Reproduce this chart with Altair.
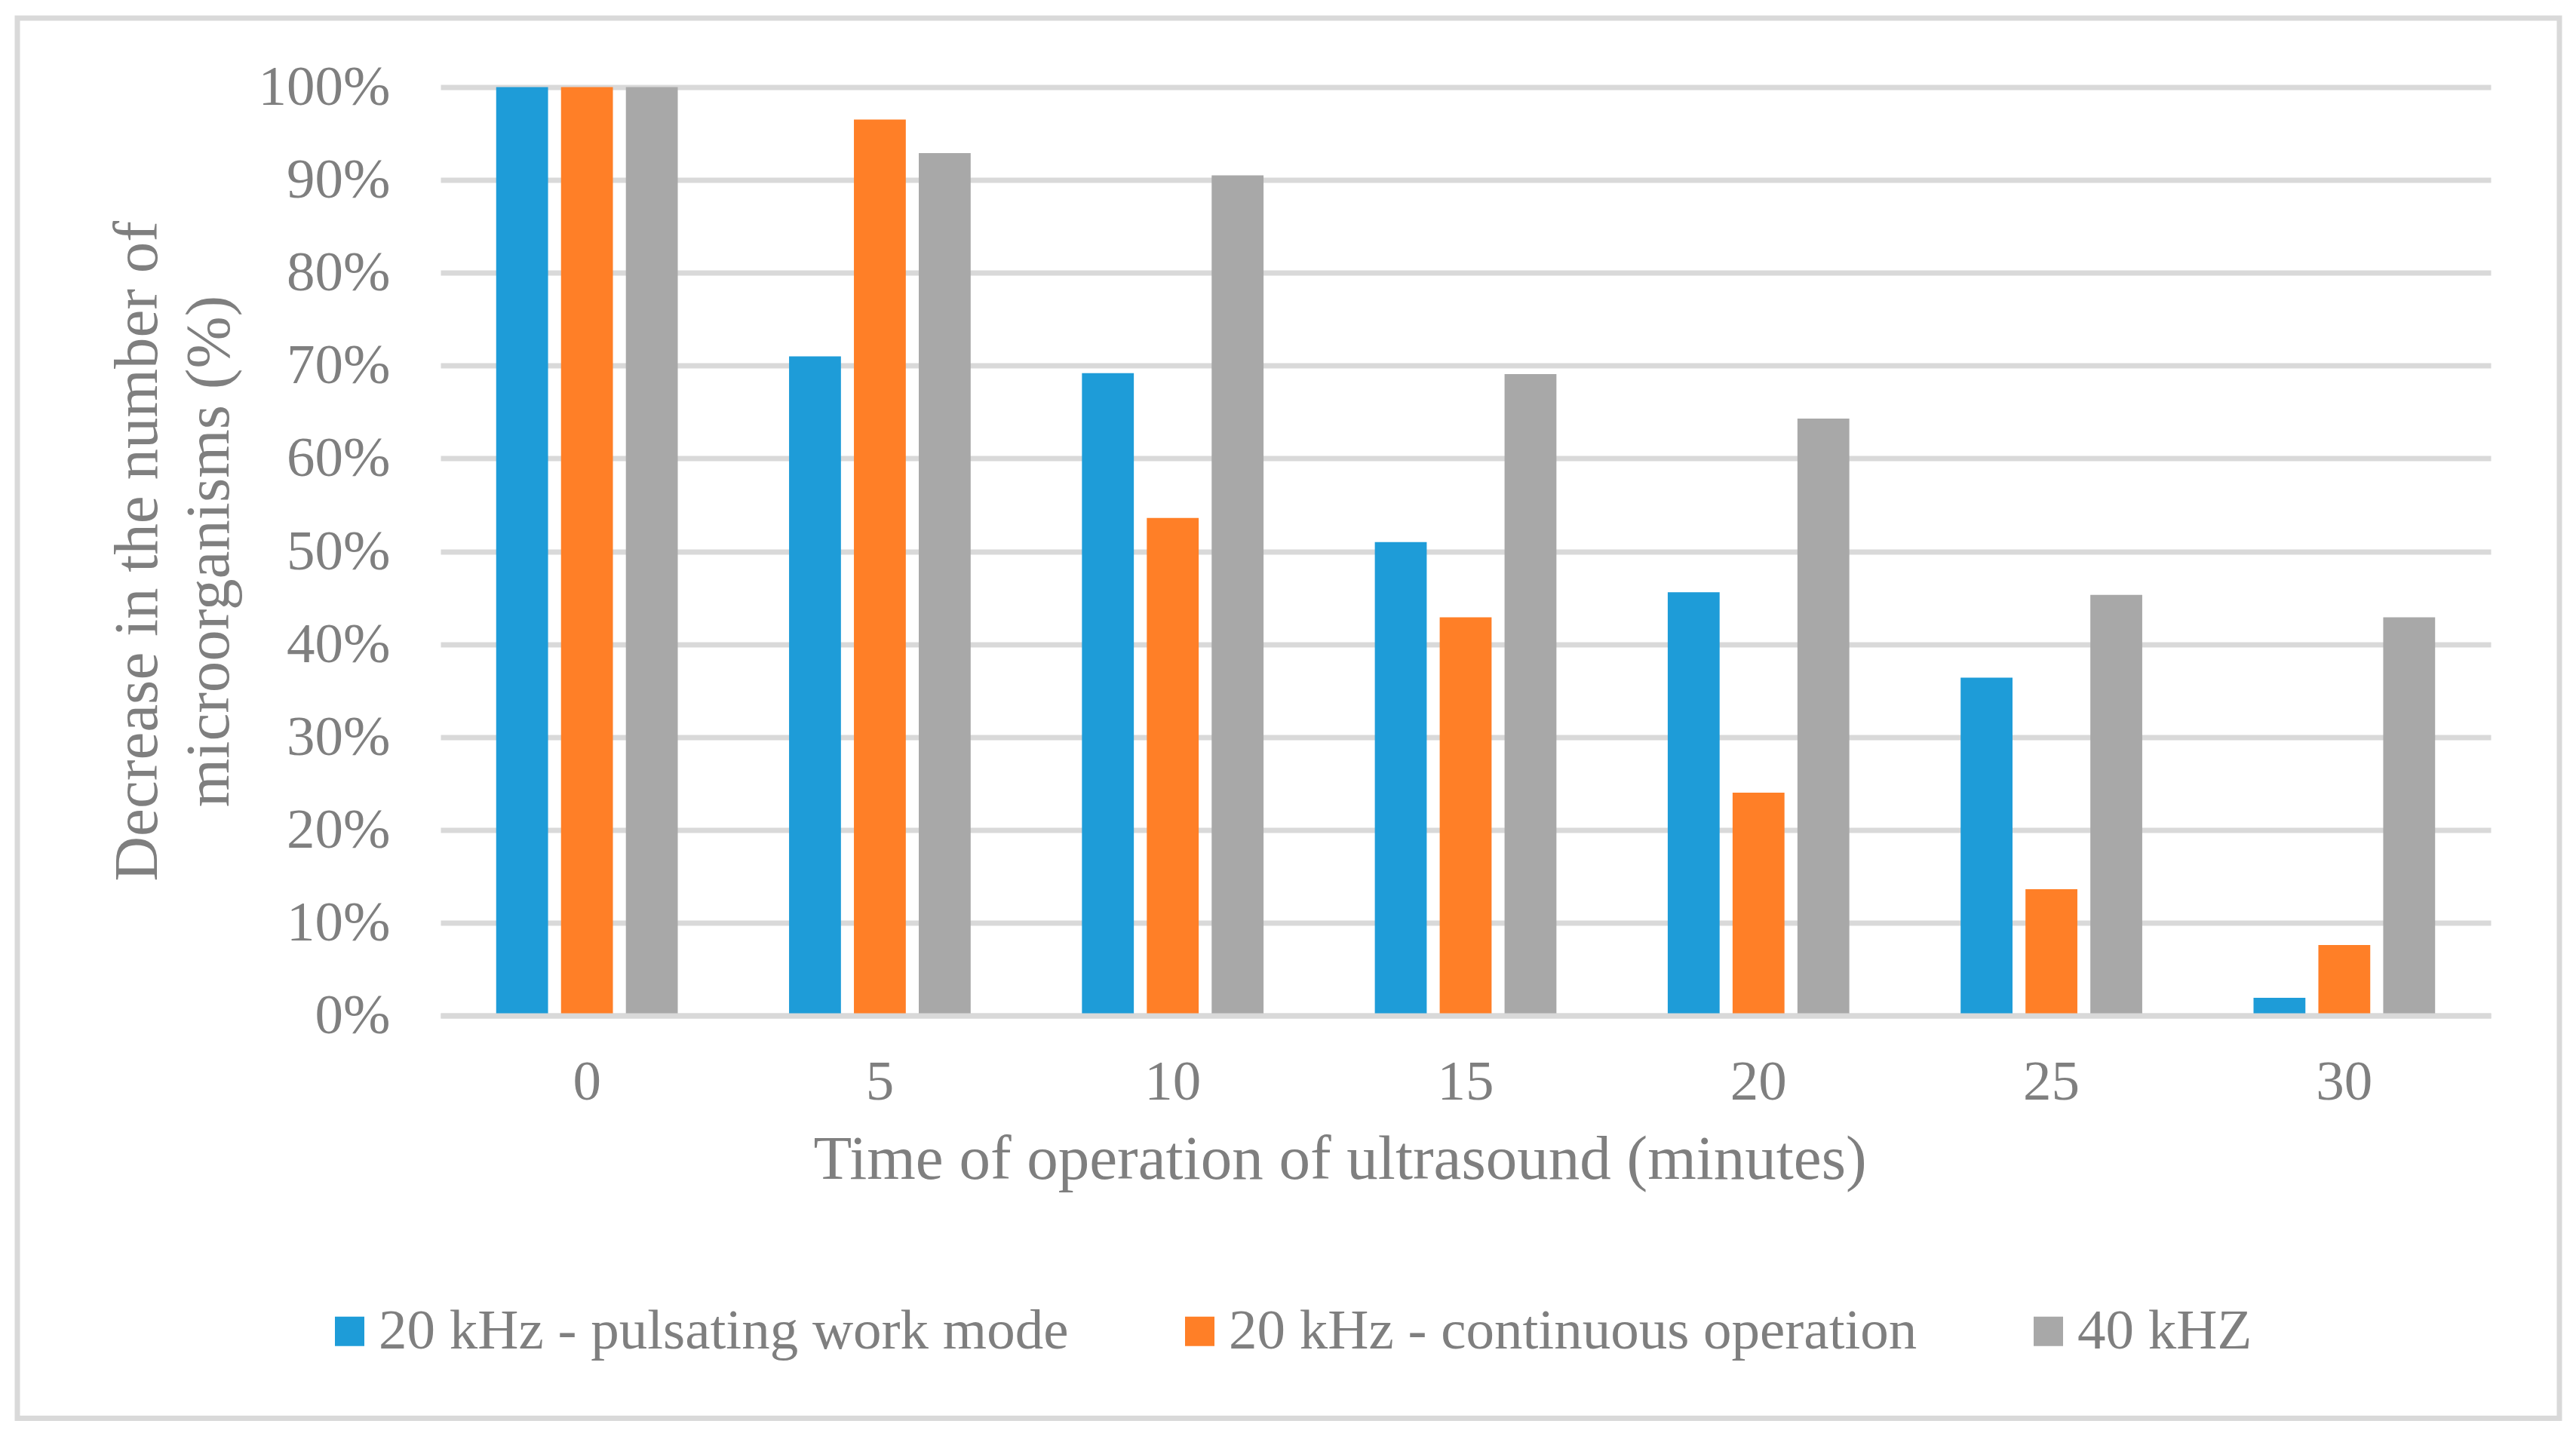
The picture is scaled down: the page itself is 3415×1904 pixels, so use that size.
import altair as alt
import pandas as pd

times = ["0", "5", "10", "15", "20", "25", "30"]
series = ["20 kHz - pulsating work mode", "20 kHz - continuous operation", "40 kHZ"]
pulsating = [100.0, 71.0, 69.2, 51.0, 45.6, 36.4, 1.9]
continuous = [100.0, 96.5, 53.6, 42.9, 24.0, 13.6, 7.6]
khz40 = [100.0, 92.9, 90.5, 69.1, 64.3, 45.3, 42.9]
colors = ["#1E9CD8", "#FF7F27", "#A8A8A8"]
y_ticks = [0, 0.1, 0.2, 0.3, 0.4, 0.5, 0.6, 0.7, 0.8, 0.9, 1.0]

rows = []
for s, vals in zip(series, [pulsating, continuous, khz40]):
    for t, v in zip(times, vals):
        rows.append({"time": t, "series": s, "value": v / 100.0})
df = pd.DataFrame(rows)

FONT = "Liberation Serif"
TXT = "#7F7F7F"
GRID = "#D9D9D9"

bars = alt.Chart(df).mark_bar().encode(
    x=alt.X(
        "time:N",
        sort=times,
        scale=alt.Scale(paddingInner=0.38, paddingOuter=0.19),
        axis=alt.Axis(
            title="Time of operation of ultrasound (minutes)",
            labelAngle=0,
            ticks=False,
            tickSize=0,
            labelPadding=52,
            labelFont=FONT,
            labelFontSize=75,
            labelColor=TXT,
            titleFont=FONT,
            titleFontSize=83,
            titleFontWeight="normal",
            titleColor=TXT,
            titleBaseline="alphabetic",
            titleX=1192,
            titleY=216,
            titleAlign="center",
            domain=True,
            domainColor=GRID,
            domainWidth=7,
            grid=False,
            zindex=1,
        ),
    ),
    xOffset=alt.XOffset("series:N", sort=series, scale=alt.Scale(paddingInner=0.2)),
    y=alt.Y(
        "value:Q",
        scale=alt.Scale(domain=[0, 1], nice=False),
        axis=alt.Axis(
            title=["Decrease in the number of", "microorganisms (%)"],
            values=y_ticks,
            format=".0%",
            ticks=False,
            tickSize=0,
            labelPadding=67,
            labelFont=FONT,
            labelFontSize=75,
            labelColor=TXT,
            titleFont=FONT,
            titleFontSize=83,
            titleFontWeight="normal",
            titleColor=TXT,
            titleLineHeight=95,
            titleBaseline="alphabetic",
            titleX=-377,
            titleY=615,
            titleAlign="center",
            domain=False,
            grid=True,
            gridColor=GRID,
            gridWidth=7,
        ),
    ),
    color=alt.Color(
        "series:N",
        sort=series,
        scale=alt.Scale(domain=series, range=colors),
        legend=alt.Legend(
            title=None,
            orient="none",
            direction="horizontal",
            legendX=-158,
            legendY=1612,
            symbolType="square",
            symbolSize=1521,
            symbolStrokeWidth=0,
            symbolOpacity=1,
            labelFont=FONT,
            labelFontSize=75,
            labelColor=TXT,
            labelOffset=1,
            labelLimit=3000,
            columnPadding=136,
            padding=0,
        ),
    ),
)

frame_df = pd.DataFrame({"frame": [1]})
frame = alt.Chart(frame_df).mark_rect(
    fill=None, stroke=GRID, strokeWidth=7
).encode(
    x=alt.value(-561),
    x2=alt.value(2809),
    y=alt.value(-91.5),
    y2=alt.value(1765),
)

chart = alt.layer(frame, bars).properties(
    width=2718,
    height=1231,
    autosize=alt.AutoSizeParams(type="none"),
    padding={"left": 576, "top": 107.5, "right": 105, "bottom": 549.5},
    background="white",
).configure_view(strokeWidth=0)

chart.save("out.html", embed_options={"renderer": "svg", "actions": False})
